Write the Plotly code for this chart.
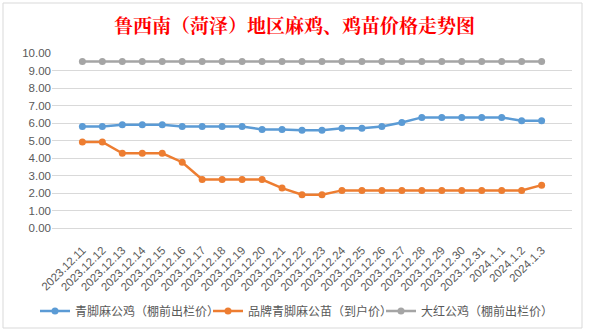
import plotly.graph_objects as go

dates = ["2023.12.11","2023.12.12","2023.12.13","2023.12.14","2023.12.15","2023.12.16",
         "2023.12.17","2023.12.18","2023.12.19","2023.12.20","2023.12.21","2023.12.22",
         "2023.12.23","2023.12.24","2023.12.25","2023.12.26","2023.12.27","2023.12.28",
         "2023.12.29","2023.12.30","2023.12.31","2024.1.1","2024.1.2","2024.1.3"]

blue_vals = [5.8, 5.8, 5.9, 5.9, 5.9, 5.8, 5.8, 5.8, 5.8, 5.63, 5.63, 5.58,
             5.58, 5.7, 5.7, 5.8, 6.03, 6.32, 6.32, 6.32, 6.32, 6.32, 6.13, 6.13]
orange_vals = [4.92, 4.92, 4.27, 4.27, 4.27, 3.76, 2.77, 2.77, 2.77, 2.77, 2.28, 1.9,
               1.9, 2.15, 2.15, 2.15, 2.15, 2.15, 2.15, 2.15, 2.15, 2.15, 2.15, 2.45]
gray_vals = [9.52] * 24

series_names = ["青脚麻公鸡（棚前出栏价）", "品牌青脚麻公苗（到户价）", "大红公鸡（棚前出栏价）"]
series_colors = ["#5B9BD5", "#ED7D31", "#A5A5A5"]
yticks = [0, 1, 2, 3, 4, 5, 6, 7, 8, 9, 10]
title_text = "鲁西南（菏泽）地区麻鸡、鸡苗价格走势图"

FONT = "Liberation Sans, Noto Sans CJK SC, sans-serif"

fig = go.Figure()
for name, vals, col in zip(series_names, [blue_vals, orange_vals, gray_vals], series_colors):
    fig.add_trace(go.Scatter(
        x=dates, y=vals, name=name, mode="lines+markers",
        line=dict(color=col, width=2.5),
        marker=dict(color=col, size=7),
    ))

fig.update_layout(
    width=589, height=332,
    margin=dict(l=52, r=17, t=53, b=104, autoexpand=False),
    paper_bgcolor="white", plot_bgcolor="white",
    title=dict(text="<b>" + title_text + "</b>", x=0.5, xanchor="center",
               y=1 - 26/332, yanchor="middle",
               font=dict(family="Noto Serif CJK SC, Noto Sans CJK SC, serif", size=19, color="#FF0000")),
    showlegend=True,
    legend=dict(orientation="h", x=0.5, xanchor="center", xref="container",
                y=1 - 311/332, yanchor="middle", yref="container",
                font=dict(family=FONT, size=12, color="#595959"),
                itemwidth=30, entrywidth=128, entrywidthmode="pixels", tracegroupgap=0),
    font=dict(family=FONT, color="#595959"),
)
fig.update_xaxes(
    type="category", tickangle=-45, showgrid=False, automargin=False,
    showline=True, linecolor="#D9D9D9", linewidth=1,
    ticks="", ticklabelstandoff=10,
    tickfont=dict(family=FONT, size=11.5, color="#595959"),
)
fig.update_yaxes(
    range=[0, 10], tickvals=yticks, tickformat=".2f", automargin=False,
    showgrid=True, gridcolor="#D9D9D9", gridwidth=1,
    zeroline=False, showline=False, ticks="",
    tickfont=dict(family=FONT, size=11.5, color="#595959"),
)
# chart frame
fig.add_shape(type="rect", xref="paper", yref="paper",
              x0=-49/520, x1=(582-52)/520, y0=-(328-228)/175, y1=(228-3)/175,
              line=dict(color="#D9D9D9", width=1), fillcolor="rgba(0,0,0,0)", layer="below")

fig.write_html("out.html")
